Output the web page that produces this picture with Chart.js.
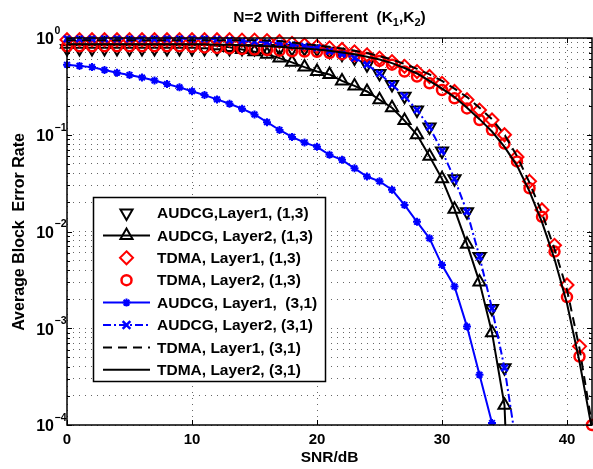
<!DOCTYPE html>
<html>
<head>
<meta charset="utf-8">
<script src="https://cdn.jsdelivr.net/npm/chart.js@4/dist/chart.umd.min.js"></script>
<style>
  body { margin: 0; background: #fff; }
  canvas { display: block; }
</style>
</head>
<body>
<canvas id="graph" width="593" height="469"></canvas>
<script>
// SNR in dB, one point per dB
const snrDb = [0,1,2,3,4,5,6,7,8,9,10,11,12,13,14,15,16,17,18,19,20,21,22,23,24,25,26,27,28,29,30,31,32,33,34,35,36,37,38,39,40,41,42];

const xTicks = [0, 10, 20, 30, 40];
const yDecades = [1e-4, 1e-3, 1e-2, 1e-1, 1];
const yExponents = ["-4", "-3", "-2", "-1", "0"];

// AUDCG, Layer1, (1,3)  - down triangles only
const audcgL1_13 = [0.78,0.78,0.78,0.78,0.78,0.78,0.78,0.78,0.78,0.78,0.78,0.78,0.78,0.78,0.78,0.78,0.78,0.78,0.78,0.78,
  0.77,0.73,0.68,0.62,0.53,0.43,0.33,0.25,0.18,0.12,0.068,0.035,0.016,0.0055,0.0016,0.00039];
// AUDCG, Layer2, (1,3)  - solid black with up triangles
const audcgL2_13 = [0.86,0.86,0.86,0.86,0.86,0.86,0.86,0.86,0.86,0.86,0.86,0.85,0.83,0.80,0.76,0.72,0.68,0.62,0.56,0.50,
  0.45,0.42,0.36,0.32,0.28,0.23,0.19,0.14,0.10,0.06,0.035,0.017,0.0074,0.003,0.0009,0.00016,1e-7];
// TDMA, Layer1, (1,3)  - red diamonds
const tdmaL1_13 = [0.96,0.96,0.96,0.96,0.96,0.96,0.96,0.96,0.96,0.96,0.96,0.96,0.96,0.96,0.95,0.95,0.94,0.92,0.88,0.85,
  0.82,0.79,0.76,0.72,0.67,0.62,0.57,0.51,0.45,0.40,0.34,0.28,0.23,0.18,0.142,0.10,0.059,0.033,0.0167,0.0072,0.0028,0.00065,0.00008];
// TDMA, Layer2, (1,3)  - red circles
const tdmaL2_13 = [0.82,0.82,0.82,0.82,0.82,0.82,0.82,0.82,0.82,0.82,0.81,0.80,0.79,0.78,0.77,0.76,0.75,0.74,0.73,0.725,
  0.72,0.70,0.68,0.65,0.62,0.58,0.53,0.45,0.40,0.34,0.29,0.238,0.187,0.142,0.112,0.081,0.053,0.028,0.0142,0.0062,0.0021,0.00051,0.0001];
// AUDCG, Layer1, (3,1)  - blue solid with stars
const audcgL1_31 = [0.53,0.515,0.5,0.467,0.438,0.415,0.39,0.363,0.335,0.309,0.282,0.257,0.232,0.209,0.186,0.162,0.135,0.112,0.095,0.083,
  0.075,0.062,0.055,0.045,0.037,0.033,0.027,0.0188,0.0126,0.0085,0.0045,0.0027,0.00104,0.00033,0.000105];
// AUDCG, Layer2, (3,1)  - blue dash-dot with x
const audcgL2_31 = [0.98,0.98,0.98,0.98,0.98,0.98,0.98,0.98,0.98,0.98,0.98,0.98,0.97,0.95,0.93,0.915,0.90,0.88,0.85,0.82,
  0.79,0.73,0.68,0.62,0.53,0.43,0.33,0.25,0.18,0.12,0.068,0.035,0.016,0.0055,0.0016,0.00039,0.000056];
// TDMA, Layer1, (3,1)  - black dashed
const tdmaL1_31 = [0.95,0.95,0.95,0.95,0.95,0.95,0.95,0.95,0.95,0.95,0.95,0.95,0.95,0.95,0.95,0.95,0.94,0.93,0.90,0.87,
  0.84,0.81,0.78,0.74,0.70,0.65,0.60,0.54,0.48,0.42,0.36,0.30,0.245,0.19,0.145,0.10,0.06,0.032,0.0155,0.0066,0.0025,0.00062,0.0001];
// TDMA, Layer2, (3,1)  - black solid
const tdmaL2_31 = [0.86,0.86,0.86,0.86,0.86,0.86,0.86,0.86,0.86,0.86,0.86,0.86,0.85,0.85,0.84,0.83,0.82,0.81,0.79,0.78,
  0.76,0.74,0.71,0.68,0.64,0.60,0.55,0.49,0.43,0.36,0.30,0.245,0.19,0.145,0.108,0.075,0.048,0.026,0.0125,0.0052,0.0018,0.00045,0.00009];

const seriesNames = [
  "AUDCG,Layer1, (1,3)",
  "AUDCG, Layer2, (1,3)",
  "TDMA, Layer1, (1,3)",
  "TDMA, Layer2, (1,3)",
  "AUDCG, Layer1,  (3,1)",
  "AUDCG, Layer2, (3,1)",
  "TDMA, Layer1, (3,1)",
  "TDMA, Layer2, (3,1)"
];

const FONT = '"Liberation Sans", Arial, Helvetica, sans-serif';

function pts(arr) {
  return arr.map((v, i) => ({ x: snrDb[i], y: v })).filter(p => p.y != null);
}

// style of each series (also used by the legend)
const styles = [
  { color: "#000", line: false, marker: "tdown", r: 7, mw: 2 },
  { color: "#000", line: true, dash: [], marker: "tup", r: 7, mw: 2 },
  { color: "#f00", line: false, marker: "diamond", r: 6.5, mw: 2 },
  { color: "#f00", line: false, marker: "circle", r: 5, mw: 2.5 },
  { color: "#00f", line: true, dash: [], marker: "star", r: 4, mw: 2 },
  { color: "#00f", line: true, dash: [8, 3, 2, 3], marker: "x", r: 4.5, mw: 2.5 },
  { color: "#000", line: true, dash: [9, 6], marker: null },
  { color: "#000", line: true, dash: [], marker: null }
];

const cjsStyle = { tdown: "triangle", tup: "triangle", diamond: "rectRot", circle: "circle", star: "star", x: "crossRot" };

const allData = [audcgL1_13, audcgL2_13, tdmaL1_13, tdmaL2_13, audcgL1_31, audcgL2_31, tdmaL1_31, tdmaL2_31];

const datasets = allData.map((arr, i) => {
  const s = styles[i];
  return {
    label: seriesNames[i],
    data: pts(arr),
    order: 8 - i,
    showLine: s.line,
    borderColor: s.color,
    backgroundColor: "rgba(0,0,0,0)",
    borderWidth: 2,
    borderDash: s.dash || [],
    tension: 0,
    pointStyle: s.marker ? cjsStyle[s.marker] : false,
    pointRotation: s.marker === "tdown" ? 180 : 0,
    pointRadius: s.marker ? s.r : 0,
    pointBorderWidth: s.mw || 0,
    pointBorderColor: s.color,
    pointBackgroundColor: "rgba(0,0,0,0)",
    clip: s.line ? { left: 10, top: 10, right: 10, bottom: 0 } : { left: 10, top: 10, right: 10, bottom: 8 }
  };
});

function drawMarker(ctx, type, x, y, r, color, w) {
  ctx.save();
  ctx.strokeStyle = color;
  ctx.lineWidth = w;
  ctx.setLineDash([]);
  ctx.beginPath();
  if (type === "tup" || type === "tdown") {
    const s = type === "tup" ? 1 : -1;
    ctx.moveTo(x, y - s * r);
    ctx.lineTo(x + r * 0.866, y + s * r * 0.5);
    ctx.lineTo(x - r * 0.866, y + s * r * 0.5);
    ctx.closePath();
  } else if (type === "diamond") {
    ctx.moveTo(x, y - r); ctx.lineTo(x + r, y); ctx.lineTo(x, y + r); ctx.lineTo(x - r, y); ctx.closePath();
  } else if (type === "circle") {
    ctx.arc(x, y, r, 0, Math.PI * 2);
  } else if (type === "star") {
    ctx.moveTo(x - r, y); ctx.lineTo(x + r, y); ctx.moveTo(x, y - r); ctx.lineTo(x, y + r);
    const d = r * 0.707;
    ctx.moveTo(x - d, y - d); ctx.lineTo(x + d, y + d); ctx.moveTo(x - d, y + d); ctx.lineTo(x + d, y - d);
  } else if (type === "x") {
    const d = r * 0.707 * 1.2;
    ctx.moveTo(x - d, y - d); ctx.lineTo(x + d, y + d); ctx.moveTo(x - d, y + d); ctx.lineTo(x + d, y - d);
  }
  ctx.stroke();
  ctx.restore();
}

const matlabLook = {
  id: "matlabLook",
  afterDraw(chart) {
    const { ctx, chartArea: a } = chart;
    const xs = chart.scales.x, ys = chart.scales.y;
    ctx.save();

    // inward tick marks
    ctx.strokeStyle = "#000";
    ctx.lineWidth = 1;
    ctx.setLineDash([]);
    ctx.beginPath();
    xTicks.forEach(v => {
      const px = Math.round(xs.getPixelForValue(v)) + 0.5;
      ctx.moveTo(px, a.bottom); ctx.lineTo(px, a.bottom - 5);
      ctx.moveTo(px, a.top); ctx.lineTo(px, a.top + 5);
    });
    ys.ticks.forEach(t => {
      const py = Math.round(ys.getPixelForValue(t.value)) + 0.5;
      const len = yDecades.includes(t.value) ? 5 : 3;
      ctx.moveTo(a.left, py); ctx.lineTo(a.left + len, py);
      ctx.moveTo(a.right, py); ctx.lineTo(a.right - len, py);
    });
    ctx.stroke();

    // axes box
    ctx.lineWidth = 1.5;
    ctx.strokeRect(a.left, a.top, a.right - a.left, a.bottom - a.top);

    ctx.fillStyle = "#000";
    // x tick labels
    ctx.font = "bold 15px " + FONT;
    ctx.textAlign = "center";
    ctx.textBaseline = "middle";
    xTicks.forEach(v => ctx.fillText(String(v), xs.getPixelForValue(v), 440));

    // y tick labels 10^n
    yDecades.forEach((v, i) => {
      const py = ys.getPixelForValue(v);
      ctx.font = "bold 16px " + FONT;
      ctx.textAlign = "right";
      ctx.fillText("10", 54, py + 2);
      ctx.font = "bold 10.5px " + FONT;
      ctx.textAlign = "left";
      ctx.fillText(yExponents[i].replace("-", "\u2212"), 54.5, py - 7);
    });

    // axis titles
    ctx.font = "bold 15.5px " + FONT;
    ctx.textAlign = "center";
    ctx.fillText("SNR/dB", (a.left + a.right) / 2, 458);
    ctx.save();
    ctx.translate(20, 232);
    ctx.rotate(-Math.PI / 2);
    ctx.font = "bold 16px " + FONT;
    ctx.fillText("Average Block  Error Rate", 0, 0);
    ctx.restore();

    // title with subscripts
    const parts = [["N=2 With Different  (K", 15.5, 0], ["1", 11, 4], [",K", 15.5, 0], ["2", 11, 4], [")", 15.5, 0]];
    let total = 0;
    parts.forEach(p => { ctx.font = "bold " + p[1] + "px " + FONT; total += ctx.measureText(p[0]).width; });
    let tx = (a.left + a.right) / 2 - total / 2;
    ctx.textAlign = "left";
    ctx.textBaseline = "alphabetic";
    parts.forEach(p => {
      ctx.font = "bold " + p[1] + "px " + FONT;
      ctx.fillText(p[0], tx, 22 + p[2]);
      tx += ctx.measureText(p[0]).width;
    });

    // legend
    const lx = 93.5, ly = 197.5, lw = 232, lh = 184;
    ctx.fillStyle = "#fff";
    ctx.fillRect(lx, ly, lw, lh);
    ctx.strokeStyle = "#000";
    ctx.lineWidth = 1.5;
    ctx.strokeRect(lx, ly, lw, lh);
    seriesNames.forEach((name, i) => {
      const s = styles[i];
      const ey = 213 + i * 22.4;
      if (s.line) {
        ctx.save();
        ctx.strokeStyle = s.color;
        ctx.lineWidth = 2;
        ctx.setLineDash(s.dash || []);
        ctx.beginPath();
        ctx.moveTo(103, ey); ctx.lineTo(150, ey);
        ctx.stroke();
        ctx.restore();
      }
      if (s.marker) drawMarker(ctx, s.marker, 126.5, ey, s.r, s.color, s.mw);
      ctx.fillStyle = "#000";
      ctx.font = "bold 15.5px " + FONT;
      ctx.textAlign = "left";
      ctx.textBaseline = "middle";
      ctx.fillText(name, 157, ey + 1);
    });

    ctx.restore();
  }
};

const gridColor = "rgba(0,0,0,0.6)";

new Chart(document.getElementById("graph").getContext("2d"), {
  type: "scatter",
  data: { datasets },
  options: {
    responsive: false,
    animation: false,
    events: [],
    layout: { autoPadding: false, padding: { left: 67, top: 38, right: 1, bottom: 44 } },
    plugins: { legend: { display: false }, tooltip: { enabled: false }, title: { display: false } },
    scales: {
      x: {
        type: "linear",
        min: 0,
        max: 42,
        afterBuildTicks: s => { s.ticks = xTicks.map(v => ({ value: v })); },
        afterFit: s => { s.height = 0; },
        ticks: { display: false },
        grid: { color: gridColor, lineWidth: 1, drawTicks: false },
        border: { display: false, dash: [1, 5] }
      },
      y: {
        type: "logarithmic",
        min: 1e-4,
        max: 1,
        afterBuildTicks: s => {
          const t = [];
          for (let e = -4; e < 0; e++) for (let m = 1; m < 10; m++) t.push({ value: m * Math.pow(10, e) });
          t.push({ value: 1 });
          s.ticks = t;
        },
        afterFit: s => { s.width = 0; },
        ticks: { display: false },
        grid: { color: gridColor, lineWidth: 1, drawTicks: false },
        border: { display: false, dash: [1, 5] }
      }
    }
  },
  plugins: [matlabLook]
});
</script>
</body>
</html>
